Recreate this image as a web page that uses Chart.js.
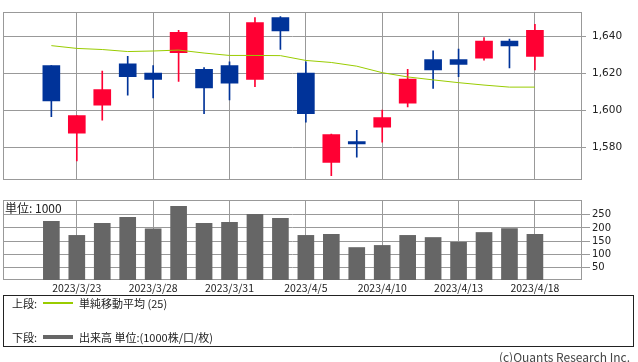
<!DOCTYPE html>
<html>
<head>
<meta charset="utf-8">
<script src="https://cdn.jsdelivr.net/npm/chart.js"></script>
<style>
  body { margin: 0; background: #fff; }
  #wrap { position: relative; width: 638px; height: 362px; overflow: hidden; font-family: "Noto Sans CJK JP", sans-serif; color: #222; }
  canvas { position: absolute; left: 0; }
  #priceChart { top: 0; }
  #volChart { top: 190px; }
  .txt { position: absolute; white-space: nowrap; font-size: 11px; line-height: 14px; }
  #unit { left: 5px; top: 201px; font-size: 12px; }
  #legendBox { position: absolute; left: 3px; top: 295px; width: 629px; height: 50px; border: 1px solid #222; }
  .sw { position: absolute; left: 43px; width: 30px; }
  #copy { right: 8px; top: 350px; color: #444; font-size: 12px; }
</style>
</head>
<body>
<div id="wrap">
  <canvas id="priceChart" width="638" height="192"></canvas>
  <canvas id="volChart" width="638" height="110"></canvas>
  <div class="txt" id="unit">単位: 1000</div>
  <div id="legendBox"></div>
  <div class="txt" style="left:12px; top:296px">上段:</div>
  <div class="sw" style="top:302px; border-top:2px solid #99cc00"></div>
  <div class="txt" style="left:79px; top:296px">単純移動平均 (25)</div>
  <div class="txt" style="left:12px; top:330px">下段:</div>
  <div class="sw" style="top:335px; border-top:4px solid #666"></div>
  <div class="txt" style="left:79px; top:330px">出来高 単位:(1000株/口/枚)</div>
  <div class="txt" id="copy">(c)Quants Research Inc.</div>
</div>
<script>
  const dates = ['2023/3/22', '2023/3/23', '2023/3/24', '2023/3/27', '2023/3/28', '2023/3/29', '2023/3/30',
    '2023/3/31', '2023/4/3', '2023/4/4', '2023/4/5', '2023/4/6', '2023/4/7', '2023/4/10', '2023/4/11',
    '2023/4/12', '2023/4/13', '2023/4/14', '2023/4/17', '2023/4/18'];
  const openP  = [1624, 1587.5, 1602.7, 1625, 1620, 1631, 1622, 1624, 1616.5, 1650, 1620, 1571.7, 1583, 1590.8, 1603.7, 1627.3, 1627.3, 1628, 1637.3, 1629];
  const highP  = [1624, 1597, 1621, 1629, 1624, 1643, 1623, 1626, 1650, 1650.5, 1626, 1587, 1589, 1600, 1622, 1632, 1633, 1639.2, 1638.3, 1646.3];
  const lowP   = [1596.5, 1572.5, 1594.6, 1608, 1606.5, 1615.5, 1598, 1605.5, 1612.7, 1632.7, 1593.5, 1564.6, 1574.6, 1582.7, 1601.7, 1611.7, 1618, 1627, 1622.7, 1621.7];
  const closeP = [1605, 1597, 1611, 1618, 1616.5, 1642, 1612, 1614.5, 1647.3, 1642.7, 1598, 1586.8, 1581.7, 1596, 1616.8, 1621.7, 1624.6, 1637.3, 1634.6, 1643];
  const ma25   = [1634.8, 1633.3, 1632.7, 1631.6, 1631.9, 1632.4, 1630.8, 1629.5, 1629.5, 1629.4, 1626.8, 1625.7, 1623.7, 1620.2, 1617.9, 1616.3, 1614.8, 1613.5, 1612.4, 1612.4];
  const volume = [225, 172, 218, 240, 197, 282, 218, 221, 252, 237, 172, 176, 126, 134, 172, 164, 146, 183, 198, 176];

  const tickDates = ['2023/3/23', '2023/3/28', '2023/3/31', '2023/4/5', '2023/4/10', '2023/4/13', '2023/4/18'];
  const priceTicks = [1580, 1600, 1620, 1640];
  const volTicks = [50, 100, 150, 200, 250];

  const UP = '#ff0033', DOWN = '#003399', GRID = '#999999';
  const candleColors = openP.map((o, i) => closeP[i] >= o ? UP : DOWN);
  const tickIdx = tickDates.map(d => dates.indexOf(d));

  // rectangle round the plot area
  const frame = {
    id: 'frame',
    beforeDatasetsDraw(chart) {
      const a = chart.chartArea, c = chart.ctx;
      c.save();
      c.strokeStyle = GRID;
      c.lineWidth = 1;
      c.strokeRect(Math.round(a.left) + 0.5, Math.round(a.top) + 0.5,
        Math.round(a.right) - Math.round(a.left) - 1, Math.round(a.bottom) - Math.round(a.top) - 1);
      c.restore();
    }
  };

  const xBase = {
    type: 'linear',
    min: -1.9,
    max: 20.85,
    offset: false,
    afterBuildTicks: (s) => { s.ticks = tickIdx.map(v => ({ value: v })); },
    grid: { color: GRID, drawTicks: false, offset: false },
    border: { display: false }
  };

  Chart.defaults.animation = false;
  Chart.defaults.font.family = '"DejaVu Sans", sans-serif';
  Chart.defaults.color = '#222';

  new Chart(document.getElementById('priceChart'), {
    type: 'bar',
    data: {
      datasets: [
        {
          type: 'line', data: ma25.map((v, i) => ({ x: i, y: v })),
          borderColor: '#99cc00', borderWidth: 1, pointRadius: 0, tension: 0, order: 0
        },
        {
          data: openP.map((o, i) => ({ x: i, y: [o, closeP[i]] })),
          backgroundColor: candleColors, barThickness: 17, grouped: false, order: 1
        },
        {
          data: lowP.map((l, i) => ({ x: i, y: [l, highP[i]] })),
          backgroundColor: candleColors, barThickness: 1, grouped: false, order: 2
        }
      ]
    },
    options: {
      responsive: false,
      devicePixelRatio: 1,
      layout: { padding: { left: 3, top: 0, right: 0, bottom: 1 } },
      plugins: { legend: { display: false }, tooltip: { enabled: false } },
      scales: {
        x: Object.assign({}, xBase, {
          ticks: { display: false },
          afterFit: (s) => { s.height = 0; }
        }),
        y: {
          position: 'right',
          min: 1562.4,
          max: 1652.8,
          afterBuildTicks: (s) => { s.ticks = priceTicks.map(v => ({ value: v })); },
          afterFit: (s) => { s.width = 56; },
          grid: { color: GRID, tickLength: 4 },
          border: { display: false },
          ticks: { padding: 6, font: { size: 10.5 }, callback: (v) => v.toLocaleString('en-US') }
        }
      }
    },
    plugins: [frame]
  });

  new Chart(document.getElementById('volChart'), {
    type: 'bar',
    data: {
      datasets: [{
        data: volume.map((v, i) => ({ x: i, y: v })),
        backgroundColor: '#666666', barThickness: 16
      }]
    },
    options: {
      responsive: false,
      devicePixelRatio: 1,
      layout: { padding: { left: 3, top: 10, right: 0, bottom: 0 } },
      plugins: { legend: { display: false }, tooltip: { enabled: false } },
      scales: {
        x: Object.assign({}, xBase, {
          ticks: {
            padding: 2,
            maxRotation: 0,
            autoSkip: false,
            font: { family: '"Noto Sans CJK JP", sans-serif', size: 10.5 },
            callback: (v) => dates[v]
          },
          afterFit: (s) => { s.height = 20; }
        }),
        y: {
          position: 'right',
          min: 3,
          max: 306,
          afterBuildTicks: (s) => { s.ticks = volTicks.map(v => ({ value: v })); },
          afterFit: (s) => { s.width = 56; },
          grid: { color: GRID, tickLength: 8 },
          border: { display: false },
          ticks: { padding: 2, font: { size: 10 } }
        }
      }
    },
    plugins: [frame]
  });
</script>
</body>
</html>
